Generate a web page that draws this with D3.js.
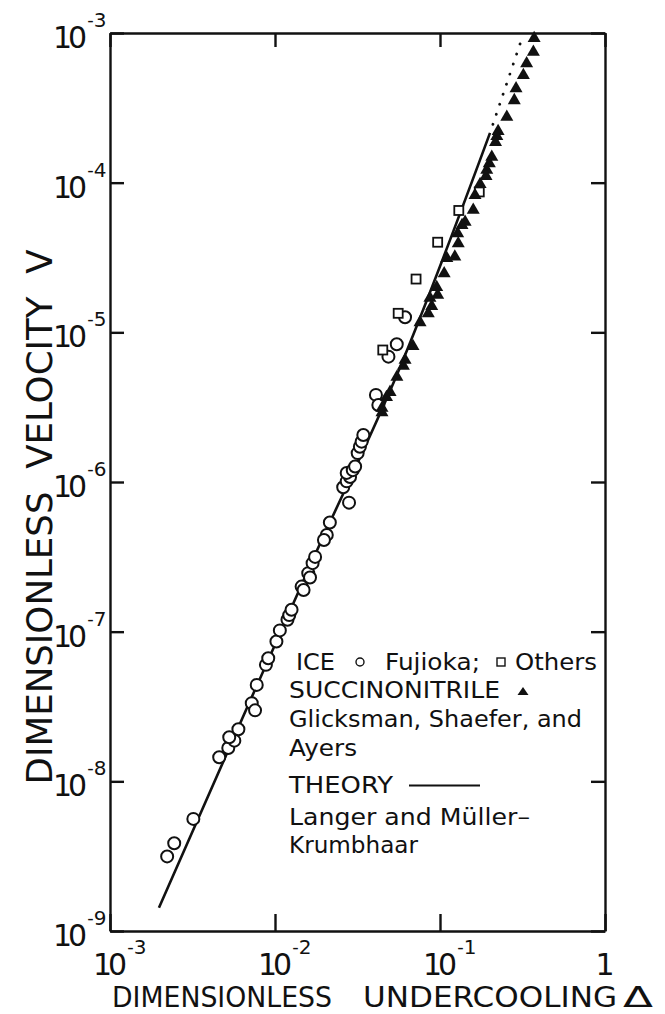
<!DOCTYPE html>
<html>
  <head>
    <meta charset="utf-8">
    <title>Dimensionless velocity vs undercooling</title>
    <style>
      body { margin: 0; background: #fff; }
      svg text { font-family: "DejaVu Sans", sans-serif; fill: #111; }
      .axis path, .axis line { stroke: #111; stroke-width: 2.4; }
    </style>
  </head>
  <body>
    <svg width="665" height="1014"></svg>

    <script src="https://d3js.org/d3.v7.min.js"></script>
    <script>

      // [undercooling, velocity]
      var iceFujioka = [
        [2.22e-3, 3.15e-9], [2.45e-3, 3.86e-9], [3.20e-3, 5.61e-9], [4.59e-3, 1.45e-8],
        [5.21e-3, 1.67e-8], [5.67e-3, 1.87e-8], [5.28e-3, 1.97e-8], [6.00e-3, 2.23e-8],
        [7.23e-3, 3.33e-8], [7.57e-3, 2.98e-8], [7.75e-3, 4.41e-8], [8.81e-3, 6.00e-8],
        [9.10e-3, 6.65e-8], [1.02e-2, 8.59e-8], [1.07e-2, 1.02e-7], [1.19e-2, 1.20e-7],
        [1.22e-2, 1.29e-7], [1.26e-2, 1.40e-7], [1.45e-2, 2.00e-7], [1.49e-2, 1.90e-7],
        [1.59e-2, 2.46e-7], [1.63e-2, 2.30e-7], [1.69e-2, 2.87e-7], [1.75e-2, 3.16e-7],
        [2.06e-2, 4.43e-7], [1.98e-2, 4.10e-7], [2.15e-2, 5.36e-7], [2.81e-2, 7.28e-7],
        [2.59e-2, 9.23e-7], [2.72e-2, 1.01e-6], [2.85e-2, 1.08e-6], [2.72e-2, 1.15e-6],
        [2.96e-2, 1.20e-6], [3.06e-2, 1.27e-6], [3.17e-2, 1.56e-6], [3.27e-2, 1.72e-6],
        [3.35e-2, 1.86e-6], [3.43e-2, 2.06e-6], [4.09e-2, 3.82e-6], [4.23e-2, 3.27e-6],
        [4.87e-2, 6.88e-6], [5.47e-2, 8.32e-6], [6.14e-2, 1.26e-5]
      ];

      var iceOthers = [
        [4.50e-2, 7.62e-6], [5.58e-2, 1.34e-5], [7.16e-2, 2.27e-5],
        [9.68e-2, 4.00e-5], [0.130, 6.52e-5], [0.173, 8.67e-5]
      ];

      var succinonitrile = [
        [0.372, 9.26e-4], [0.368, 7.50e-4], [0.335, 6.28e-4], [0.320, 5.24e-4],
        [0.289, 4.27e-4], [0.282, 3.56e-4], [0.254, 2.76e-4], [0.225, 2.21e-4],
        [0.221, 2.05e-4], [0.217, 1.87e-4], [0.206, 1.49e-4], [0.199, 1.35e-4],
        [0.192, 1.22e-4], [0.190, 1.11e-4], [0.175, 9.80e-5], [0.163, 8.28e-5],
        [0.159, 6.58e-5], [0.142, 5.48e-5], [0.136, 5.21e-5], [0.128, 4.59e-5],
        [0.129, 3.94e-5], [0.123, 3.21e-5], [0.110, 3.14e-5], [0.106, 2.48e-5],
        [9.55e-2, 2.01e-5], [9.68e-2, 1.78e-5], [8.69e-2, 1.70e-5], [8.91e-2, 1.50e-5],
        [8.49e-2, 1.34e-5], [7.57e-2, 1.17e-5], [6.86e-2, 8.11e-6], [6.14e-2, 6.55e-6],
        [6.00e-2, 5.97e-6], [5.48e-2, 5.04e-6], [4.98e-2, 4.00e-6], [4.74e-2, 3.70e-6],
        [4.45e-2, 3.13e-6], [4.45e-2, 2.92e-6]
      ];

      var theory = [[1.98e-3, 1.43e-9], [1.59e-2, 2.59e-7], [5.58e-2, 5.46e-6], [0.201, 2.15e-4]];
      var theoryExtended = [[0.201, 2.15e-4], [0.310, 8.85e-4]];

      var xTicks = [1e-3, 1e-2, 1e-1, 1];
      var xTickExp = ["3", "2", "1", ""];
      var yTicks = [1e-3, 1e-4, 1e-5, 1e-6, 1e-7, 1e-8, 1e-9];
      var yTickExp = ["3", "4", "5", "6", "7", "8", "9"];

      var svg = d3.select("svg"),
        margin = { top: 33, right: 60, bottom: 83, left: 110 },
        width = +svg.attr("width"),
        height = +svg.attr("height");

      var x = d3.scaleLog()
        .domain([1e-3, 1])
        .range([margin.left, width - margin.right]);

      var y = d3.scaleLog()
        .domain([1e-9, 1e-3])
        .range([height - margin.bottom, margin.top]);

      // frame with inward ticks on all four sides
      svg.append("g").attr("class", "axis")
        .attr("transform", "translate(" + margin.left + ",0)")
        .call(d3.axisLeft(y).tickValues(yTicks).tickSizeInner(-14).tickSizeOuter(0).tickFormat(""));
      svg.append("g").attr("class", "axis")
        .attr("transform", "translate(" + (width - margin.right) + ",0)")
        .call(d3.axisRight(y).tickValues(yTicks).tickSizeInner(-14).tickSizeOuter(0).tickFormat(""));
      svg.append("g").attr("class", "axis")
        .attr("transform", "translate(0," + (height - margin.bottom) + ")")
        .call(d3.axisBottom(x).tickValues(xTicks).tickSizeInner(-17).tickSizeOuter(0).tickFormat(""));
      svg.append("g").attr("class", "axis")
        .attr("transform", "translate(0," + margin.top + ")")
        .call(d3.axisTop(x).tickValues(xTicks).tickSizeInner(-14).tickSizeOuter(0).tickFormat(""));
      svg.selectAll(".axis path").attr("fill", "none");

      // power-of-ten label: "10" followed by a raised "-n"
      function powLabel(left, base, exp) {
        var t = svg.append("text").attr("x", left).attr("y", base).attr("font-size", 30);
        t.append("tspan").attr("letter-spacing", -4).text("1");
        t.append("tspan").text("0");
        t.append("tspan").attr("dy", -22).attr("font-size", 18).text("-");
        t.append("tspan").attr("dy", 1).attr("font-size", 20).text(exp);
      }

      yTicks.forEach(function (v, i) {
        powLabel(53, y(v) + 15, yTickExp[i]);
      });

      xTicks.forEach(function (v, i) {
        var tx = x(v);
        if (xTickExp[i] === "") {
          svg.append("text").attr("x", tx).attr("y", 975).attr("font-size", 30)
            .attr("text-anchor", "middle").text("1");
        } else {
          powLabel(tx - 17, 975, xTickExp[i]);
        }
      });

      // axis titles
      svg.append("text")
        .attr("transform", "translate(52," + 517 + ") rotate(-90)")
        .attr("text-anchor", "middle")
        .attr("font-size", 36)
        .attr("textLength", 535).attr("lengthAdjust", "spacingAndGlyphs")
        .style("white-space", "pre")
        .text("DIMENSIONLESS  VELOCITY  V");

      var xTitle = svg.append("g").attr("font-size", 28);
      xTitle.append("text").attr("x", 112).attr("y", 1007)
        .attr("textLength", 220).attr("lengthAdjust", "spacingAndGlyphs").text("DIMENSIONLESS");
      xTitle.append("text").attr("x", 363).attr("y", 1007)
        .attr("textLength", 254).attr("lengthAdjust", "spacingAndGlyphs").text("UNDERCOOLING");
      xTitle.append("text").attr("x", 623).attr("y", 1007)
        .attr("textLength", 30).attr("lengthAdjust", "spacingAndGlyphs").text("Δ");

      // theory curve
      var line = d3.line()
        .x(function (d) { return x(d[0]); })
        .y(function (d) { return y(d[1]); })
        .curve(d3.curveCatmullRom);

      svg.append("path").datum(theory)
        .attr("d", line)
        .attr("fill", "none").attr("stroke", "#111").attr("stroke-width", 2.6);

      svg.append("path").datum(theoryExtended)
        .attr("d", line)
        .attr("fill", "none").attr("stroke", "#111").attr("stroke-width", 2.8)
        .attr("stroke-linecap", "round")
        .attr("stroke-dasharray", "0.1,10.5")
        .attr("stroke-dashoffset", -9);

      // data marks
      var tri = "M0,-7.3L6.5,4L-6.5,4Z";

      svg.append("g").selectAll("circle")
        .data(iceFujioka)
        .enter().append("circle")
        .attr("cx", function (d) { return x(d[0]); })
        .attr("cy", function (d) { return y(d[1]); })
        .attr("r", 6)
        .attr("fill", "#fff").attr("stroke", "#111").attr("stroke-width", 2);

      svg.append("g").selectAll("rect")
        .data(iceOthers)
        .enter().append("rect")
        .attr("x", function (d) { return x(d[0]) - 4.5; })
        .attr("y", function (d) { return y(d[1]) - 4.5; })
        .attr("width", 9).attr("height", 9)
        .attr("fill", "#fff").attr("stroke", "#111").attr("stroke-width", 1.8);

      svg.append("g").selectAll("path")
        .data(succinonitrile)
        .enter().append("path")
        .attr("d", tri)
        .attr("transform", function (d) { return "translate(" + x(d[0]) + "," + y(d[1]) + ")"; })
        .attr("fill", "#111");

      // legend
      var lg = svg.append("g").attr("font-size", 23);
      lg.append("text").attr("x", 296).attr("y", 670).attr("textLength", 39).attr("lengthAdjust", "spacingAndGlyphs").text("ICE");
      lg.append("circle").attr("cx", 360).attr("cy", 662).attr("r", 4)
        .attr("fill", "none").attr("stroke", "#111").attr("stroke-width", 1.4);
      lg.append("text").attr("x", 385).attr("y", 670).attr("textLength", 95).attr("lengthAdjust", "spacingAndGlyphs").text("Fujioka;");
      lg.append("rect").attr("x", 497).attr("y", 658).attr("width", 8).attr("height", 8)
        .attr("fill", "none").attr("stroke", "#111").attr("stroke-width", 1.4);
      lg.append("text").attr("x", 515).attr("y", 670).attr("textLength", 82).attr("lengthAdjust", "spacingAndGlyphs").text("Others");

      lg.append("text").attr("x", 289).attr("y", 698).attr("textLength", 211).attr("lengthAdjust", "spacingAndGlyphs").text("SUCCINONITRILE");
      lg.append("path").attr("d", "M523,687L528.5,695L517.5,695Z").attr("fill", "#111");

      lg.append("text").attr("x", 289).attr("y", 727).attr("textLength", 293).attr("lengthAdjust", "spacingAndGlyphs").text("Glicksman, Shaefer, and");
      lg.append("text").attr("x", 289).attr("y", 756).attr("textLength", 68).attr("lengthAdjust", "spacingAndGlyphs").text("Ayers");

      lg.append("text").attr("x", 289).attr("y", 793).attr("textLength", 104).attr("lengthAdjust", "spacingAndGlyphs").text("THEORY");
      lg.append("line").attr("x1", 409).attr("x2", 480).attr("y1", 785.5).attr("y2", 785.5)
        .attr("stroke", "#111").attr("stroke-width", 2);

      lg.append("text").attr("x", 289).attr("y", 825).attr("textLength", 241).attr("lengthAdjust", "spacingAndGlyphs").text("Langer and Müller–");
      lg.append("text").attr("x", 289).attr("y", 853).attr("textLength", 129).attr("lengthAdjust", "spacingAndGlyphs").text("Krumbhaar");

    </script>
  </body>
</html>
